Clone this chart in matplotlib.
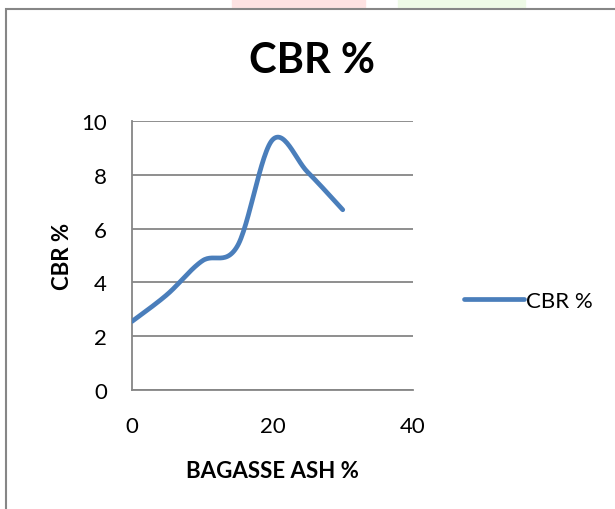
import matplotlib.pyplot as plt
import numpy as np
from matplotlib.patches import Rectangle

# values
ash_pct = [0, 5, 10, 15, 20, 25, 30]
cbr_pct = [2.55, 3.55, 4.8, 5.35, 9.3, 8.1, 6.7]
x_ticks = [0, 20, 40]
y_ticks = [0, 2, 4, 6, 8, 10]

font = 'Lato'
blue = '#4A7EBB'
grey = '#868686'


def smooth(xs, ys, n=30):
    # Excel-style smoothed line (Catmull-Rom through the points)
    xs = np.asarray(xs, float)
    ys = np.asarray(ys, float)
    px = np.concatenate([[xs[0]], xs, [xs[-1]]])
    py = np.concatenate([[ys[0]], ys, [ys[-1]]])
    out_x, out_y = [], []
    t = np.linspace(0, 1, n)
    for i in range(1, len(px) - 2):
        for p, out in ((px, out_x), (py, out_y)):
            p0, p1, p2, p3 = p[i - 1], p[i], p[i + 1], p[i + 2]
            c1 = p1 + (p2 - p0) / 6
            c2 = p2 - (p3 - p1) / 6
            out.extend((1 - t) ** 3 * p1 + 3 * (1 - t) ** 2 * t * c1
                       + 3 * (1 - t) * t ** 2 * c2 + t ** 3 * p2)
    return out_x, out_y


fig = plt.figure(figsize=(6.15, 5.10), dpi=100)

# faint watermark blocks at the top edge
fig.patches.append(Rectangle((232 / 615, 1 - 8 / 510), 133 / 615, 8 / 510,
                             transform=fig.transFigure, color='#fde2e2', zorder=0))
fig.patches.append(Rectangle((398 / 615, 1 - 8 / 510), 127 / 615, 8 / 510,
                             transform=fig.transFigure, color='#eefae6', zorder=0))
# chart-area border
fig.patches.append(Rectangle((6 / 615, -0.05), 1.0, 1 - 10 / 510 + 0.05,
                             transform=fig.transFigure, fill=False,
                             edgecolor=grey, linewidth=1.5, zorder=1))

ax = fig.add_axes([132 / 615, 1 - 391 / 510, 281 / 615, 269 / 510])
sx, sy = smooth(ash_pct, cbr_pct)
ax.plot(sx, sy, color=blue, linewidth=3.4, solid_capstyle='round',
        solid_joinstyle='round', label='CBR %', zorder=3)

ax.set_xlim(0, 40)
ax.set_ylim(0, 10)
ax.set_xticks(x_ticks)
ax.set_yticks(y_ticks)
ax.yaxis.grid(True, color=grey, linewidth=1.3)
ax.set_axisbelow(True)
for s in ('top', 'right'):
    ax.spines[s].set_visible(False)
for s in ('left', 'bottom'):
    ax.spines[s].set_color(grey)
    ax.spines[s].set_linewidth(1.3)
ax.tick_params(length=0, labelsize=16, pad=18)
ax.tick_params(axis='x', pad=19)
for lab in ax.get_xticklabels() + ax.get_yticklabels():
    lab.set_fontfamily(font)

fig.text(312 / 615, 1 - 61 / 510, 'CBR %', fontsize=30, fontweight='bold',
         family=font, ha='center', va='center')
ax.set_xlabel('BAGASSE ASH %', fontsize=16, fontweight='bold', family=font, labelpad=17)
ax.set_ylabel('CBR %', fontsize=16, fontweight='bold', family=font, labelpad=6)

leg = ax.legend(loc='center left', bbox_to_anchor=(1.11, 0.33), frameon=False,
                handlelength=2.7, handletextpad=0.1,
                prop={'family': font, 'size': 16})

fig.savefig('out.png', dpi=100)
